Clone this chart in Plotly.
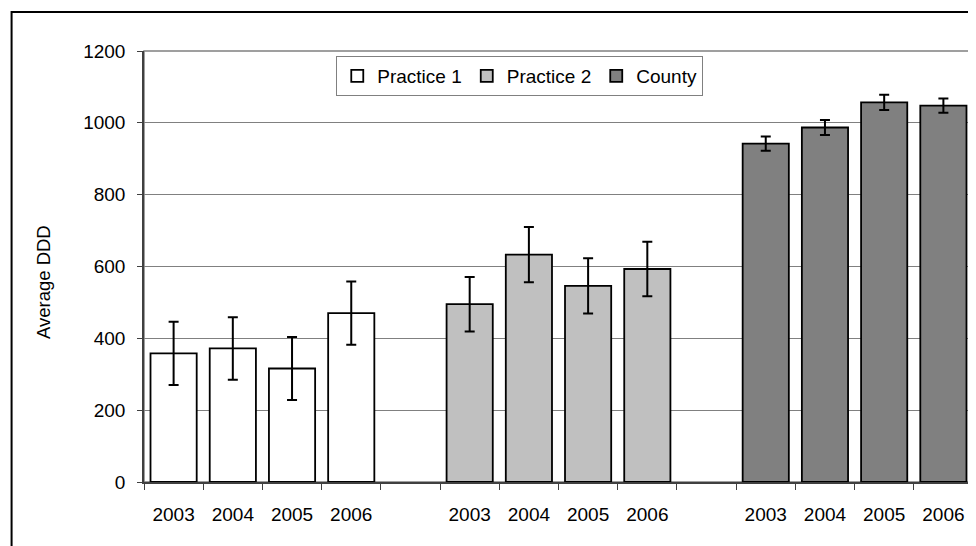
import plotly.graph_objects as go

# ---- data ----
years = ["2003", "2004", "2005", "2006"]
series_names = ["Practice 1", "Practice 2", "County"]
practice1 = [358, 372, 316, 470]
practice1_err = [88, 87, 88, 88]
practice2 = [495, 633, 546, 593]
practice2_err = [76, 77, 77, 76]
county = [942, 987, 1057, 1048]
county_err = [20, 21, 21, 20]
y_ticks = [0, 200, 400, 600, 800, 1000, 1200]

series_values = [practice1, practice2, county]
series_errors = [practice1_err, practice2_err, county_err]
colors = ["#FFFFFF", "#C0C0C0", "#808080"]

FONT = "Liberation Sans, Arial, sans-serif"
OFF = 8  # page body margin
W, H = 976 - OFF, 546 - OFF
# target plot area in screen pixels
PL, PR, PT, PB = 143.5, 973, 51, 482
ML, MT = PL - OFF, PT - OFF
MR = W - (PR - OFF)
MB = H - (PB - OFF)
PW = PR - PL
PH = PB - PT


def px_x(sx):
    return (sx - PL) / PW


def px_y(sy):
    return (PB - sy) / PH


fig = go.Figure()
tickvals, ticktext = [], []
for g, (name, vals, errs, col) in enumerate(zip(series_names, series_values, series_errors, colors)):
    xs = [g * (len(years) + 1) + i for i in range(len(years))]
    tickvals += xs
    ticktext += years
    fig.add_trace(go.Bar(
        x=xs, y=vals, name=name, width=0.78,
        marker=dict(color=col, line=dict(color="#000000", width=1.8)),
        error_y=dict(type="data", array=errs, visible=True,
                     color="#000000", thickness=2, width=5),
    ))

n_cat = len(years) * 3 + 2

fig.update_layout(
    width=W, height=H,
    margin=dict(l=ML, r=MR, t=MT, b=MB, pad=0),
    paper_bgcolor="white", plot_bgcolor="white",
    barmode="overlay",
    font=dict(family=FONT, size=19, color="#000000"),
    showlegend=True,
    legend=dict(
        orientation="h", x=px_x(519.5), xanchor="center",
        y=px_y(56), yanchor="top",
        bordercolor="#808080", borderwidth=1, bgcolor="white",
        font=dict(family=FONT, size=19, color="#000000"),
        itemwidth=30, traceorder="normal",
    ),
    xaxis=dict(
        range=[-0.5, n_cat - 0.5], showgrid=False, zeroline=False,
        tickmode="array", tickvals=tickvals, ticktext=ticktext, ticks="",
        ticklabelstandoff=14,
        tickfont=dict(family=FONT, size=19, color="#000000"),
        showline=True, linecolor="#404040", linewidth=1.5,
        minor=dict(tickmode="linear", tick0=-0.5, dtick=1, ticks="outside",
                   ticklen=6, tickcolor="#404040", tickwidth=1, showgrid=False),
    ),
    yaxis=dict(
        range=[0, 1200], tickmode="array", tickvals=y_ticks,
        showgrid=True, gridcolor="#808080", gridwidth=1, zeroline=False,
        ticks="outside", ticklen=5, tickcolor="#404040", tickwidth=1,
        ticklabelstandoff=8,
        tickfont=dict(family=FONT, size=19, color="#000000"),
        showline=True, linecolor="#404040", linewidth=1.5,
    ),
    shapes=[
        # plot-area border
        dict(type="rect", xref="paper", yref="paper", x0=0, x1=1, y0=0, y1=1,
             line=dict(color="#808080", width=1.5), layer="below"),
        # chart frame
        dict(type="rect", xref="paper", yref="paper",
             x0=px_x(11), x1=px_x(1000),
             y0=px_y(570), y1=px_y(12),
             line=dict(color="#000000", width=2), layer="above"),
    ],
    annotations=[
        dict(text="Average DDD", textangle=-90, xref="paper", yref="paper",
             x=px_x(43), y=px_y(282.5),
             xanchor="center", yanchor="middle", showarrow=False,
             font=dict(family=FONT, size=18.5, color="#000000")),
    ],
)

fig.write_html("out.html")
